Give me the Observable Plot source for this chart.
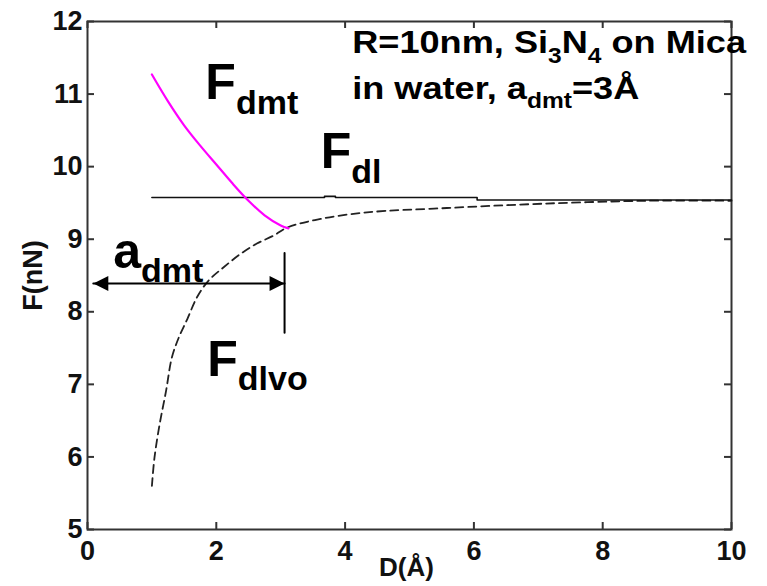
<!DOCTYPE html>
<html><head><meta charset="utf-8">
<script src="https://cdn.jsdelivr.net/npm/d3@7"></script>
<script src="https://cdn.jsdelivr.net/npm/@observablehq/plot@0.6"></script>
<style>body{margin:0;background:#fff}</style>
</head><body><div id="chart"></div>
<script>
// ---- data ----
const dmtD = [1.00, 1.25, 1.50, 1.75, 2.00, 2.25, 2.50, 2.75, 3.00, 3.12];
const dmtF = [11.27, 10.90, 10.57, 10.29, 10.03, 9.77, 9.53, 9.33, 9.19, 9.15];

const dlD = [1.00, 3.68, 3.68, 3.85, 3.85, 6.05, 6.05, 10.00];
const dlF = [9.575, 9.575, 9.59, 9.59, 9.575, 9.575, 9.54, 9.54];

const dlvoD = [1.00, 1.04, 1.12, 1.22, 1.31, 1.42, 1.55, 1.70, 1.88, 2.11, 2.38, 2.63, 2.89, 3.10, 3.62, 4.34, 5.58, 7.08, 8.69, 10.00];
const dlvoF = [5.60, 5.99, 6.45, 6.91, 7.37, 7.65, 7.90, 8.20, 8.43, 8.61, 8.80, 8.94, 9.05, 9.16, 9.28, 9.37, 9.43, 9.49, 9.53, 9.53];

const xTicks = [0, 2, 4, 6, 8, 10];
const yTicks = [5, 6, 7, 8, 9, 10, 11, 12];

const arrowD = [0.09, 3.06];
const arrowF = 8.39;
const markerD = 3.06;
const markerF = [7.71, 8.81];

const labelText = ["F_{dmt}", "F_{dl}", "a_{dmt}", "F_{dlvo}"];
const labelD = [1.83, 3.62, 0.40, 1.86];
const labelF = [10.93, 9.98, 8.61, 7.12];

const noteText = ["R=10nm, Si_{3}N_{4} on Mica", "in water, a_{dmt}=3Å"];
const noteD = [4.11, 4.11];
const noteF = [11.56, 10.93];

const xLabel = "D(Å)";
const yLabel = "F(nN)";

// ---- helpers ----
const idx = a => a.map((_, i) => i);
const leftHead = {draw(c) { c.moveTo(0, 0); c.lineTo(15, -7.5); c.lineTo(15, 7.5); c.closePath(); }};
const rightHead = {draw(c) { c.moveTo(0, 0); c.lineTo(-15, -7.5); c.lineTo(-15, 7.5); c.closePath(); }};
const axisColor = "#333";
const font = "'Liberation Sans', Arial, Helvetica, sans-serif";

const chart = Plot.plot({
  width: 767,
  height: 586,
  marginLeft: 87,
  marginRight: 36,
  marginTop: 21,
  marginBottom: 57,
  style: {fontFamily: font, background: "#fff"},
  x: {domain: [0, 10]},
  y: {domain: [5, 12]},
  marks: [
    Plot.frame({stroke: axisColor, strokeWidth: 2}),
    Plot.ruleX(xTicks, {x: d => d, y1: 5, y2: 5, insetBottom: 7, stroke: axisColor, strokeWidth: 2}),
    Plot.ruleX(xTicks, {x: d => d, y1: 12, y2: 12, insetTop: 7, stroke: axisColor, strokeWidth: 2}),
    Plot.ruleY(yTicks, {y: d => d, x1: 0, x2: 0, insetLeft: 7, stroke: axisColor, strokeWidth: 2}),
    Plot.ruleY(yTicks, {y: d => d, x1: 10, x2: 10, insetRight: 7, stroke: axisColor, strokeWidth: 2}),
    Plot.axisX({ticks: xTicks, tickFormat: d => String(d), tickSize: 0, tickPadding: 11, fontSize: 27, fontWeight: "bold", label: null, fill: "#111"}),
    Plot.axisY({ticks: yTicks, tickFormat: d => String(d), tickSize: 0, tickPadding: 5, fontSize: 27, fontWeight: "bold", label: null, fill: "#111"}),
    Plot.text([xLabel], {frameAnchor: "bottom", textAnchor: "middle", lineAnchor: "bottom", dy: 46, dx: -3, fontSize: 26, fontWeight: "bold", fill: "#111"}),
    Plot.text([yLabel], {frameAnchor: "left", textAnchor: "middle", lineAnchor: "bottom", rotate: -90, dx: -46, fontSize: 27, fontWeight: "bold", fill: "#111"}),
    // curves
    Plot.line(idx(dlvoD), {x: i => dlvoD[i], y: i => dlvoF[i], stroke: "#222", strokeWidth: 1.8, strokeDasharray: "8,5", curve: "catmull-rom"}),
    Plot.line(idx(dlD), {x: i => dlD[i], y: i => dlF[i], stroke: "#111", strokeWidth: 1.6}),
    Plot.line(idx(dmtD), {x: i => dmtD[i], y: i => dmtF[i], stroke: "#ff00ff", strokeWidth: 2.2, curve: "catmull-rom"}),
    // a_dmt arrow and marker
    Plot.line(arrowD, {x: d => d, y: () => arrowF, stroke: "#000", strokeWidth: 2}),
    Plot.dot([arrowD[0]], {x: d => d, y: () => arrowF, symbol: leftHead, fill: "#000", stroke: "none"}),
    Plot.dot([arrowD[1]], {x: d => d, y: () => arrowF, symbol: rightHead, fill: "#000", stroke: "none"}),
    Plot.line(markerF, {x: () => markerD, y: d => d, stroke: "#000", strokeWidth: 2}),
    // labels
    Plot.text(idx(labelText), {x: i => labelD[i], y: i => labelF[i], text: i => labelText[i], textAnchor: "start", lineAnchor: "bottom", fontSize: 50, fontWeight: "bold", fill: "#000"}),
    Plot.text(idx(noteText), {x: i => noteD[i], y: i => noteF[i], text: i => noteText[i], textAnchor: "start", lineAnchor: "bottom", fontSize: 32, fontWeight: "bold", fill: "#000", className: "note"})
  ]
});
document.getElementById("chart").appendChild(chart);

// subscripts: "_{...}" -> smaller, lowered tspan
function subscriptify(el, scale, shiftEm) {
  const s = el.textContent;
  if (!s.includes("_{")) return;
  const fs = parseFloat(getComputedStyle(el).fontSize);
  el.textContent = "";
  const parts = s.split(/(_\{[^}]*\})/).filter(p => p);
  let shifted = false;
  for (const p of parts) {
    const t = document.createElementNS("http://www.w3.org/2000/svg", "tspan");
    if (p.startsWith("_{")) {
      t.textContent = p.slice(2, -1);
      t.setAttribute("font-size", fs * scale);
      if (!shifted) { t.setAttribute("dy", fs * shiftEm); shifted = true; }
    } else {
      t.textContent = p;
      if (shifted) { t.setAttribute("dy", -fs * shiftEm); shifted = false; }
    }
    el.appendChild(t);
  }
}
chart.querySelectorAll("text").forEach(el => subscriptify(el, 0.68, 0.29));
// the reference's note lettering is wider than Arial: widen it horizontally
chart.querySelectorAll("g.note text").forEach(el => {
  const tr = el.getAttribute("transform") || "";
  el.setAttribute("transform", tr + " scale(1.13,1)");
});
</script>
</body></html>
